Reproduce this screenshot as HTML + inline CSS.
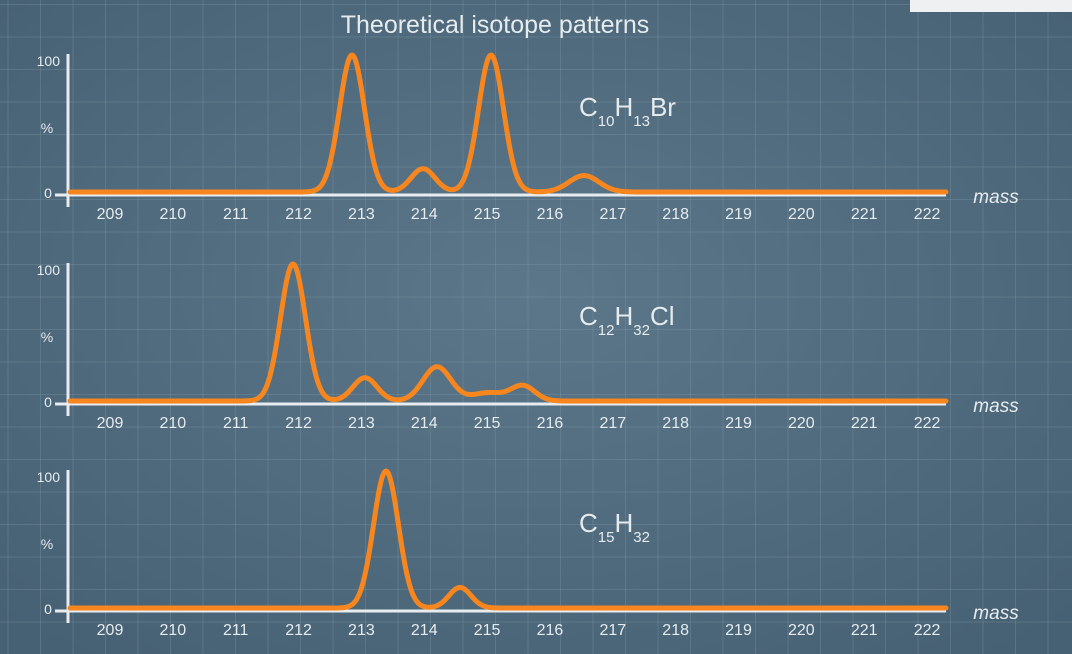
<!DOCTYPE html>
<html><head><meta charset="utf-8"><style>
html,body{margin:0;padding:0;width:1072px;height:654px;overflow:hidden;background:#4f6b7d;}
svg{display:block}
text{font-family:"Liberation Sans",sans-serif;fill:#e6ebee}
</style></head><body>
<svg id="s" width="1072" height="654" xmlns="http://www.w3.org/2000/svg">
<defs>
<radialGradient id="bg" cx="50%" cy="45%" r="70%">
<stop offset="0" stop-color="#5b7789"/><stop offset="1" stop-color="#466173"/>
</radialGradient>
</defs>
<rect width="1072" height="654" fill="url(#bg)"/>
<g id="grid" stroke="#7d97a6" stroke-opacity="0.35" stroke-width="1"></g>
<rect x="910" y="0" width="162" height="12" fill="#eef0f1"/>
<text x="495" y="33" font-size="25" text-anchor="middle">Theoretical isotope patterns</text>
<g id="panels"></g>
</svg>
<script>
var g=document.getElementById('grid'),s="";
for(var x=8;x<1072;x+=32.5)s+='<line x1="'+x+'" y1="0" x2="'+x+'" y2="654"/>';
for(var y=4.5;y<654;y+=32.5)s+='<line x1="0" y1="'+y+'" x2="1072" y2="'+y+'"/>';
g.innerHTML=s;
var panels=[
 {b:194,peaks:[[352,1,12.5],[423,0.17,12],[491,1,12.5],[584,0.12,15]],f:'C<tspan font-size="15" dy="10">10</tspan><tspan dy="-10">H</tspan><tspan font-size="15" dy="10">13</tspan><tspan dy="-10">Br</tspan>'},
 {b:403,peaks:[[293,1,12.5],[365,0.17,12],[437,0.25,14],[488,0.06,16],[523,0.11,12]],f:'C<tspan font-size="15" dy="10">12</tspan><tspan dy="-10">H</tspan><tspan font-size="15" dy="10">32</tspan><tspan dy="-10">Cl</tspan>'},
 {b:610,peaks:[[386,1,12.5],[460,0.15,11]],f:'C<tspan font-size="15" dy="10">15</tspan><tspan dy="-10">H</tspan><tspan font-size="15" dy="10">32</tspan>'}
];
var out="";
panels.forEach(function(p){
 var b=p.b,h=137;
 out+='<line x1="68" y1="'+(b-140)+'" x2="68" y2="'+(b+13)+'" stroke="#e8ecee" stroke-width="3"/>';
 out+='<line x1="55" y1="'+(b+1)+'" x2="946" y2="'+(b+1)+'" stroke="#e8ecee" stroke-width="3"/>';
 out+='<text x="60" y="'+(b-128)+'" font-size="14" text-anchor="end">100</text>';
 out+='<text x="47" y="'+(b-61)+'" font-size="14" text-anchor="middle">%</text>';
 out+='<text x="48" y="'+(b+4)+'" font-size="14" text-anchor="middle">0</text>';
 for(var i=0;i<14;i++){out+='<text x="'+(110+i*62.85)+'" y="'+(b+25)+'" font-size="16" text-anchor="middle">'+(209+i)+'</text>';}
 out+='<text x="996" y="'+(b+9)+'" font-size="19" font-style="italic" text-anchor="middle">mass</text>';
 var d="";
 for(var x=70;x<=946;x+=1){var v=0;p.peaks.forEach(function(k){var z=(x-k[0])/k[2];v+=k[1]*Math.exp(-z*z/2);});
  d+=(x==70?'M':'L')+x+','+(b-2-v*h).toFixed(2);}
 out+='<path d="'+d+'" fill="none" stroke="#f7861e" stroke-width="5" stroke-linejoin="round" stroke-linecap="round"/>';
 out+='<text x="579" y="'+(b-78)+'" font-size="26">'+p.f+'</text>';
});
document.getElementById('panels').innerHTML=out;
</script>
</body></html>
